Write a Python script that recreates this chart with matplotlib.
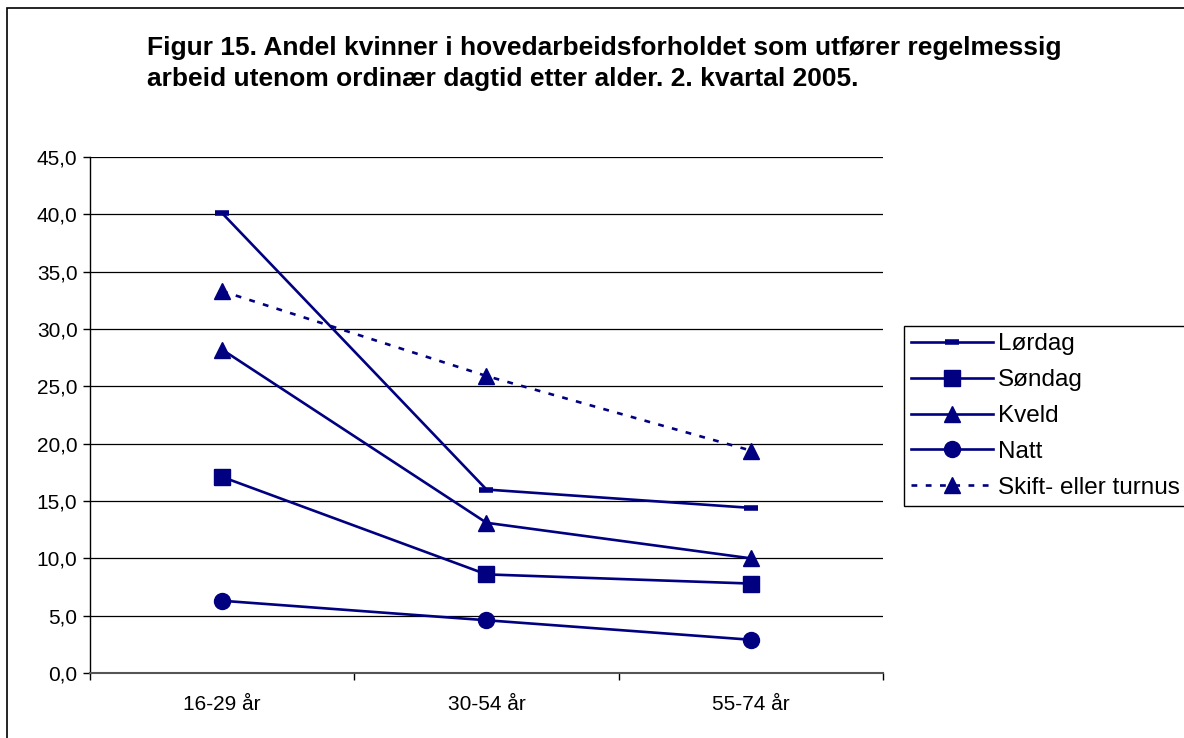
import matplotlib
matplotlib.use("Agg")
import matplotlib.pyplot as plt
from matplotlib.patches import Rectangle
from matplotlib.ticker import FixedLocator, FuncFormatter

plt.rcParams['font.family'] = ['Liberation Sans', 'DejaVu Sans']

categories = ['16-29 år', '30-54 år', '55-74 år']
lordag = [40.1, 16.0, 14.4]
sondag = [17.1, 8.6, 7.8]
kveld = [28.2, 13.1, 10.0]
natt = [6.3, 4.6, 2.9]
skift = [33.3, 25.9, 19.4]
series_names = ['Lørdag', 'Søndag', 'Kveld', 'Natt', 'Skift- eller turnus']
yticks = [0, 5, 10, 15, 20, 25, 30, 35, 40, 45]
title = ("Figur 15. Andel kvinner i hovedarbeidsforholdet som utfører regelmessig\n"
         "arbeid utenom ordinær dagtid etter alder. 2. kvartal 2005.")

W, H = 1184, 738
fig = plt.figure(figsize=(W / 100, H / 100), dpi=100)
fig.patch.set_facecolor('white')

# outer frame (clipped at right/bottom as in the reference)
fig.add_artist(Rectangle((7 / W, -0.05), 1.2, 1 - 8 / H + 0.05, transform=fig.transFigure,
                         fill=False, edgecolor='black', linewidth=1.2))

ax = fig.add_axes([90 / W, 1 - 673 / H, (883 - 90) / W, (673 - 157) / H])
navy = '#000080'
x = list(range(len(categories)))

lw = 1.9
ax.plot(x, lordag, color=navy, lw=lw, marker='_', ms=10.5, mew=4, label=series_names[0], clip_on=False, zorder=3)
ax.plot(x, sondag, color=navy, lw=lw, marker='s', ms=11.5, label=series_names[1], clip_on=False, zorder=3)
ax.plot(x, kveld, color=navy, lw=lw, marker='^', ms=12, label=series_names[2], clip_on=False, zorder=3)
ax.plot(x, natt, color=navy, lw=lw, marker='o', ms=11.5, label=series_names[3], clip_on=False, zorder=3)
ax.plot(x, skift, color=navy, lw=lw, ls=(0, (2.2, 3.2)), marker='^', ms=12, label=series_names[4], clip_on=False, zorder=3)

ax.set_xlim(-0.5, len(categories) - 0.5)
ax.set_ylim(0, 45)
ax.yaxis.set_major_locator(FixedLocator(yticks))
ax.yaxis.set_major_formatter(FuncFormatter(lambda v, p: f"{v:.1f}".replace('.', ',')))
ax.set_xticks(x)
ax.set_xticklabels(categories)
ax.set_xticks([i - 0.5 for i in range(len(categories) + 1)], minor=True)
ax.tick_params(axis='x', which='major', length=0, pad=16, labelsize=15)
ax.tick_params(axis='x', which='minor', length=5, width=1, direction='out')
ax.tick_params(axis='y', length=5, width=1, direction='out', pad=4, labelsize=15)
ax.grid(axis='y', color='black', lw=0.9)
ax.set_axisbelow(True)
for s in ['top', 'right']:
    ax.spines[s].set_visible(False)
ax.spines['left'].set_color('black')
ax.spines['bottom'].set_color('#555555')
ax.spines['left'].set_linewidth(1)
ax.spines['bottom'].set_linewidth(1.5)

fig.text(147 / W, 1 - 36 / H, title, ha='left', va='top', fontsize=19, fontweight='bold',
         linespacing=1.38)

leg = fig.legend(loc='upper left', bbox_to_anchor=(904 / W, 1 - 326 / H), fontsize=17.5,
                 frameon=True, fancybox=False, edgecolor='black', framealpha=1,
                 handlelength=3.35, handletextpad=0.2, borderpad=0.3, labelspacing=0.57,
                 borderaxespad=0)
leg.get_frame().set_linewidth(1)

fig.savefig('out.png', dpi=100)
